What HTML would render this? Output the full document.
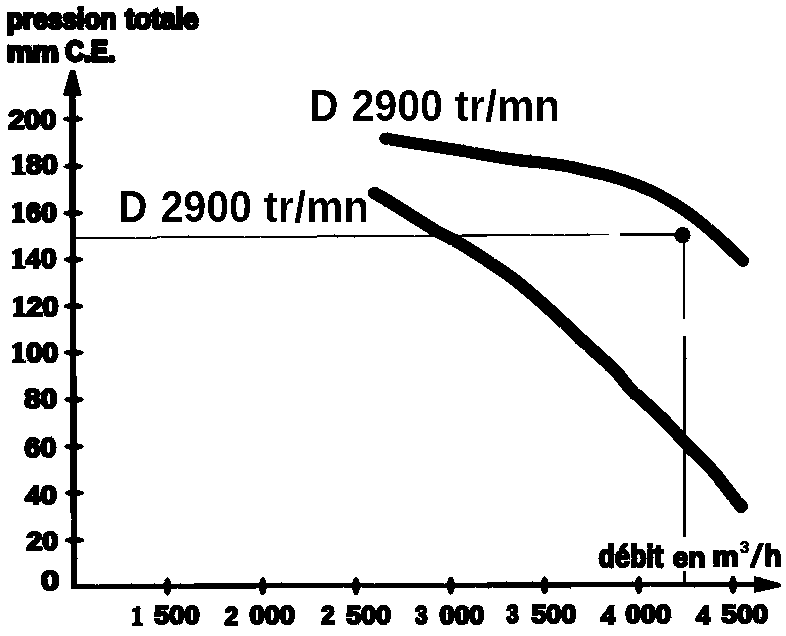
<!DOCTYPE html>
<html>
<head>
<meta charset="utf-8">
<title>Courbe pression / débit</title>
<style>
html,body{margin:0;padding:0;background:#fff;}
body{width:786px;height:636px;overflow:hidden;font-family:"Liberation Sans",sans-serif;}
svg{display:block;}
text{fill:#000;}
</style>
</head>
<body>
<svg width="786" height="636" viewBox="0 0 786 636">
<defs>
<filter id="rough" filterUnits="userSpaceOnUse" x="0" y="0" width="786" height="636" color-interpolation-filters="sRGB">
  <feTurbulence type="fractalNoise" baseFrequency="0.7" numOctaves="2" seed="7" result="n"/>
  <feDisplacementMap in="SourceGraphic" in2="n" scale="1.8" xChannelSelector="R" yChannelSelector="G"/>
  <feComponentTransfer><feFuncA type="discrete" tableValues="0 1"/></feComponentTransfer>
</filter>
<filter id="bw" filterUnits="userSpaceOnUse" x="0" y="0" width="786" height="636" color-interpolation-filters="sRGB">
  <feComponentTransfer><feFuncA type="discrete" tableValues="0 1"/></feComponentTransfer>
</filter>
</defs>
<rect width="786" height="636" fill="#fff"/>
<g id="scan" filter="url(#rough)">

<g id="title">
<text transform="matrix(0.9761 0 0 1.0630 6.81 28.71)" font-family="Liberation Sans" font-weight="bold" font-size="27.0" stroke="#000" stroke-width="3.0" stroke-linejoin="round">pression</text>
<text transform="matrix(1.0171 0 0 1.0687 125.36 28.80)" font-family="Liberation Sans" font-weight="bold" font-size="27.0" stroke="#000" stroke-width="3.0" stroke-linejoin="round">totale</text>
<text transform="matrix(1.0831 0 0 1.0803 6.88 61.68)" font-family="Liberation Sans" font-weight="bold" font-size="27.0" stroke="#000" stroke-width="3.0" stroke-linejoin="round">mm</text>
<text transform="matrix(0.9527 0 0 1.1184 65.40 61.42)" font-family="Liberation Sans" font-weight="bold" font-size="27.0" stroke="#000" stroke-width="3.0" stroke-linejoin="round">C.E.</text>
</g>
<g id="axes" stroke="#000" fill="#000">
  <line x1="72.3" y1="90" x2="74" y2="589" stroke-width="6.4"/>
  <line x1="71" y1="586.6" x2="760" y2="584.1" stroke-width="5.3"/>
  <polygon points="70.3,70.6 74.8,70.6 81.2,95 63.4,95" stroke-width="1" stroke-linejoin="round"/>
  <polygon points="754.5,576.5 779.5,583.6 780.6,584 780.6,586.2 779.5,586.8 754.5,592.4" stroke-width="1" stroke-linejoin="round"/>
</g>
<g id="yticks" fill="#000">
  <ellipse cx="72.9" cy="119" rx="10" ry="3.3"/>
  <ellipse cx="73.1" cy="166.3" rx="10" ry="3.3"/>
  <ellipse cx="73.2" cy="213.2" rx="10" ry="3.3"/>
  <ellipse cx="73.4" cy="259.6" rx="10" ry="3.3"/>
  <ellipse cx="73.6" cy="306.2" rx="10" ry="3.3"/>
  <ellipse cx="73.8" cy="352.7" rx="10" ry="3.3"/>
  <ellipse cx="73.9" cy="399.6" rx="10" ry="3.3"/>
  <ellipse cx="74.1" cy="446.6" rx="10" ry="3.3"/>
  <ellipse cx="74.3" cy="493" rx="10" ry="3.3"/>
  <ellipse cx="74.5" cy="540.2" rx="10" ry="3.3"/>
</g>
<g id="xticks" fill="#000">
  <ellipse cx="167.4" cy="586.5" rx="3.9" ry="9.2"/>
  <ellipse cx="262.8" cy="586.2" rx="3.9" ry="9.2"/>
  <ellipse cx="356" cy="585.9" rx="3.9" ry="9.2"/>
  <ellipse cx="450.9" cy="585.6" rx="3.9" ry="9.2"/>
  <ellipse cx="544.6" cy="585.4" rx="3.9" ry="9.2"/>
  <ellipse cx="638.8" cy="585.1" rx="3.9" ry="9.2"/>
  <ellipse cx="733" cy="584.8" rx="3.9" ry="9.2"/>
</g>
<g id="ylabels">
  <text transform="matrix(1.0610 0 0 1.0286 8.42 128.69)" font-weight="bold" stroke="#000" stroke-width="2.6" stroke-linejoin="round"><tspan font-family="Liberation Sans" font-size="27.00">200</tspan></text>
  <text transform="matrix(1.0555 0 0 1.0240 10.98 173.99)" font-weight="bold" stroke="#000" stroke-width="2.6" stroke-linejoin="round"><tspan font-family="Liberation Serif" font-size="28.35">1</tspan><tspan font-family="Liberation Sans" font-size="27.00">80</tspan></text>
  <text transform="matrix(1.0325 0 0 1.0424 11.10 222.46)" font-weight="bold" stroke="#000" stroke-width="2.6" stroke-linejoin="round"><tspan font-family="Liberation Serif" font-size="28.35">1</tspan><tspan font-family="Liberation Sans" font-size="27.00">60</tspan></text>
  <text transform="matrix(1.0462 0 0 1.0148 10.99 268.41)" font-weight="bold" stroke="#000" stroke-width="2.6" stroke-linejoin="round"><tspan font-family="Liberation Serif" font-size="28.35">14</tspan><tspan font-family="Liberation Sans" font-size="27.00">0</tspan></text>
  <text transform="matrix(1.0601 0 0 1.0563 11.67 316.34)" font-weight="bold" stroke="#000" stroke-width="2.6" stroke-linejoin="round"><tspan font-family="Liberation Serif" font-size="28.35">1</tspan><tspan font-family="Liberation Sans" font-size="27.00">20</tspan></text>
  <text transform="matrix(1.0670 0 0 1.0563 11.07 361.54)" font-weight="bold" stroke="#000" stroke-width="2.6" stroke-linejoin="round"><tspan font-family="Liberation Serif" font-size="28.35">1</tspan><tspan font-family="Liberation Sans" font-size="27.00">00</tspan></text>
  <text transform="matrix(1.0952 0 0 0.9963 24.34 408.34)" font-weight="bold" stroke="#000" stroke-width="2.6" stroke-linejoin="round"><tspan font-family="Liberation Sans" font-size="27.00">80</tspan></text>
  <text transform="matrix(1.0592 0 0 1.0240 24.53 456.59)" font-weight="bold" stroke="#000" stroke-width="2.6" stroke-linejoin="round"><tspan font-family="Liberation Sans" font-size="27.00">60</tspan></text>
  <text transform="matrix(1.0874 0 0 0.9825 25.20 503.56)" font-weight="bold" stroke="#000" stroke-width="2.6" stroke-linejoin="round"><tspan font-family="Liberation Serif" font-size="28.35">4</tspan><tspan font-family="Liberation Sans" font-size="27.00">0</tspan></text>
  <text transform="matrix(1.0528 0 0 0.9640 26.42 549.79)" font-weight="bold" stroke="#000" stroke-width="2.6" stroke-linejoin="round"><tspan font-family="Liberation Sans" font-size="27.00">20</tspan></text>
  <text transform="matrix(1.2088 0 0 1.0148 40.97 590.41)" font-weight="bold" stroke="#000" stroke-width="2.6" stroke-linejoin="round"><tspan font-family="Liberation Sans" font-size="27.00">0</tspan></text>
</g>
<g id="xlabels">
  <text transform="matrix(0.8465 0 0 0.9854 131.18 624.72)" font-weight="bold" stroke="#000" stroke-width="2.6" stroke-linejoin="round"><tspan font-family="Liberation Serif" font-size="28.35">1</tspan></text>
  <text transform="matrix(1.0044 0 0 0.9686 154.29 624.48)" font-weight="bold" stroke="#000" stroke-width="2.6" stroke-linejoin="round"><tspan font-family="Liberation Sans" font-size="27.00">500</tspan></text>
  <text transform="matrix(0.8946 0 0 0.9809 224.76 624.72)" font-weight="bold" stroke="#000" stroke-width="2.6" stroke-linejoin="round"><tspan font-family="Liberation Sans" font-size="27.00">2</tspan></text>
  <text transform="matrix(1.0081 0 0 0.9686 249.52 624.48)" font-weight="bold" stroke="#000" stroke-width="2.6" stroke-linejoin="round"><tspan font-family="Liberation Sans" font-size="27.00">000</tspan></text>
  <text transform="matrix(0.8946 0 0 0.9809 321.26 624.22)" font-weight="bold" stroke="#000" stroke-width="2.6" stroke-linejoin="round"><tspan font-family="Liberation Sans" font-size="27.00">2</tspan></text>
  <text transform="matrix(0.9869 0 0 0.9686 346.28 623.98)" font-weight="bold" stroke="#000" stroke-width="2.6" stroke-linejoin="round"><tspan font-family="Liberation Sans" font-size="27.00">500</tspan></text>
  <text transform="matrix(0.8307 0 0 0.9686 414.96 623.98)" font-weight="bold" stroke="#000" stroke-width="2.6" stroke-linejoin="round"><tspan font-family="Liberation Sans" font-size="27.00">3</tspan></text>
  <text transform="matrix(0.9928 0 0 0.9686 439.52 623.98)" font-weight="bold" stroke="#000" stroke-width="2.6" stroke-linejoin="round"><tspan font-family="Liberation Sans" font-size="27.00">000</tspan></text>
  <text transform="matrix(0.8057 0 0 0.9594 506.54 623.29)" font-weight="bold" stroke="#000" stroke-width="2.6" stroke-linejoin="round"><tspan font-family="Liberation Sans" font-size="27.00">3</tspan></text>
  <text transform="matrix(0.9913 0 0 0.9594 531.49 623.29)" font-weight="bold" stroke="#000" stroke-width="2.6" stroke-linejoin="round"><tspan font-family="Liberation Sans" font-size="27.00">500</tspan></text>
  <text transform="matrix(1.0107 0 0 0.9804 600.93 623.53)" font-weight="bold" stroke="#000" stroke-width="2.6" stroke-linejoin="round"><tspan font-family="Liberation Serif" font-size="28.35">4</tspan></text>
  <text transform="matrix(1.0125 0 0 0.9594 625.42 623.29)" font-weight="bold" stroke="#000" stroke-width="2.6" stroke-linejoin="round"><tspan font-family="Liberation Sans" font-size="27.00">000</tspan></text>
  <text transform="matrix(0.9792 0 0 0.9804 696.20 623.53)" font-weight="bold" stroke="#000" stroke-width="2.6" stroke-linejoin="round"><tspan font-family="Liberation Serif" font-size="28.35">4</tspan></text>
  <text transform="matrix(1.0328 0 0 0.9594 721.51 623.29)" font-weight="bold" stroke="#000" stroke-width="2.6" stroke-linejoin="round"><tspan font-family="Liberation Sans" font-size="27.00">500</tspan></text>
</g>
<g id="xtitle">
<text transform="matrix(0.9657 0 0 1.0899 598.38 566.99)" font-family="Liberation Sans" font-weight="bold" font-size="28" stroke="#000" stroke-width="2.4" stroke-linejoin="round">débit</text>
<text transform="matrix(1.0010 0 0 0.9977 672.78 566.80)" font-family="Liberation Sans" font-weight="bold" font-size="28" stroke="#000" stroke-width="2.4" stroke-linejoin="round">en</text>
<text transform="matrix(1.0642 0 0 0.9919 712.29 566.31)" font-family="Liberation Sans" font-weight="bold" font-size="28" stroke="#000" stroke-width="2.4" stroke-linejoin="round">m</text>
<text transform="matrix(1.0290 0 0 0.9912 740.03 552.94)" font-family="Liberation Sans" font-weight="bold" font-size="16" stroke="#000" stroke-width="0.8" stroke-linejoin="round">3</text>
<polygon points="749.6,567.4 754.4,567.4 763.6,543.6 758.8,543.6" fill="#000" stroke="#000" stroke-width="0.6"/>
<text transform="matrix(0.9659 0 0 1.0859 764.77 566.00)" font-family="Liberation Sans" font-weight="bold" font-size="28" stroke="#000" stroke-width="2.4" stroke-linejoin="round">h</text>
</g>
<g id="guides" stroke="#000" fill="none">
  <line x1="76" y1="238" x2="590" y2="234.8" stroke-width="2.1"/>
  <line x1="590" y1="234.7" x2="609" y2="234.6" stroke-width="1"/>
  <line x1="620" y1="234.8" x2="680" y2="234.8" stroke-width="2.8"/>
  <line x1="684.1" y1="236" x2="684.1" y2="319" stroke-width="2.4"/>
  <line x1="684.3" y1="336" x2="684.6" y2="536.8" stroke-width="2.8"/>
  <line x1="684.5" y1="571" x2="684.5" y2="584" stroke-width="2.2"/>
</g>
<circle cx="682.5" cy="235.2" r="8.1" fill="#000"/>
<g id="curves" stroke="#000" fill="none" stroke-linecap="round" stroke-linejoin="round">
  <path id="upper" stroke-width="12.2" d="M385.4,138.6 C391.8,139.6 411.2,142.8 423.6,144.8 C436.0,146.8 445.4,148.2 460.0,150.6 C474.6,153.0 494.3,156.7 511.0,159.1 C527.7,161.5 547.6,163.1 560.0,165.0 C572.4,166.9 576.9,168.5 585.4,170.4 C593.9,172.3 602.4,173.9 610.9,176.3 C619.4,178.7 628.1,181.6 636.3,184.8 C644.5,188.0 651.3,190.7 660.0,195.4 C668.7,200.1 678.9,206.2 688.3,212.9 C697.7,219.7 708.4,228.7 716.6,235.9 C724.9,243.1 733.4,251.8 737.8,256.0 C742.2,260.1 742.2,260.0 743.1,260.8"/>
  <path id="lower" stroke-width="12.8" d="M374.3,192.9 C376.1,194.0 379.3,195.6 385.4,199.3 C391.5,203.0 402.4,209.9 410.9,215.2 C419.4,220.5 428.1,226.3 436.3,231.0 C444.5,235.7 451.3,238.3 460.0,243.4 C468.7,248.5 478.9,255.2 488.3,261.5 C497.7,267.8 506.3,273.2 516.6,281.3 C526.9,289.4 539.4,300.5 550.0,310.0 C560.6,319.5 572.9,331.6 580.0,338.2 C587.1,344.8 588.4,346.0 592.6,349.8 C596.8,353.6 601.0,357.2 605.2,361.1 C609.4,365.0 613.5,368.8 617.7,373.4 C621.9,378.0 625.9,384.2 630.3,388.8 C634.7,393.4 638.8,396.4 644.0,401.2 C649.2,406.0 655.9,411.9 661.4,417.4 C666.9,422.9 672.4,429.1 677.2,434.2 C682.0,439.3 685.8,443.7 690.0,448.0 C694.2,452.3 698.4,455.8 702.6,460.1 C706.8,464.4 711.0,468.7 715.2,473.6 C719.4,478.5 723.5,484.4 727.7,489.7 C731.9,495.0 738.2,502.8 740.3,505.4"/>
  <circle cx="741" cy="506" r="7" fill="#000" stroke="none"/>
</g>
</g>
<g id="curvelabels" filter="url(#bw)">
<text transform="matrix(0.9862 0 0 1.0722 309.30 120.90)" font-family="Liberation Sans" font-weight="bold" font-size="41">D</text>
<text transform="matrix(1.0047 0 0 1.0722 351.43 120.90)" font-family="Liberation Sans" font-weight="bold" font-size="41">2900</text>
<text transform="matrix(1.0282 0 0 1.0722 454.74 120.90)" font-family="Liberation Sans" font-weight="bold" font-size="41">tr/mn</text>
<text transform="matrix(0.9862 0 0 1.0722 118.30 221.70)" font-family="Liberation Sans" font-weight="bold" font-size="41">D</text>
<text transform="matrix(1.0047 0 0 1.0722 160.43 221.70)" font-family="Liberation Sans" font-weight="bold" font-size="41">2900</text>
<text transform="matrix(1.0282 0 0 1.0722 263.74 221.70)" font-family="Liberation Sans" font-weight="bold" font-size="41">tr/mn</text>
</g>
</svg>
</body>
</html>
